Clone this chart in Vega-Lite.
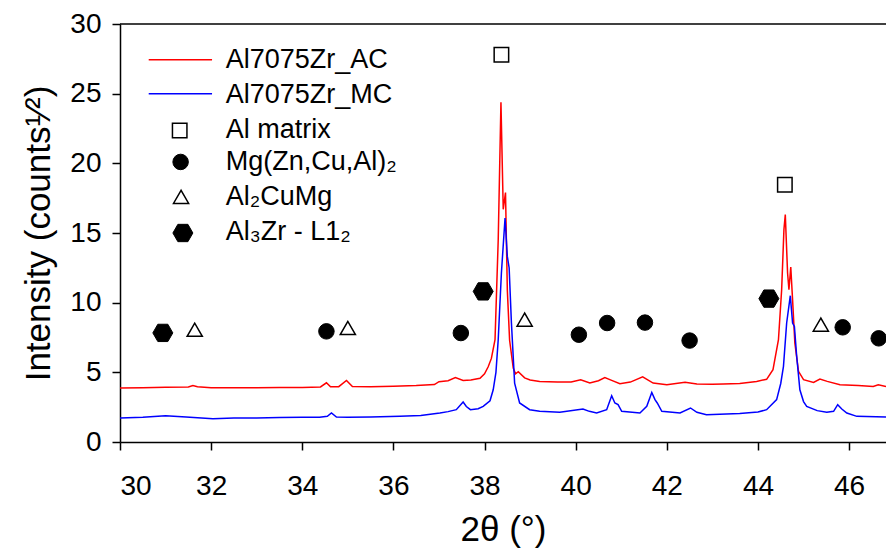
{
  "$schema": "https://vega.github.io/schema/vega-lite/v6.json",
  "width": 766,
  "height": 418,
  "autosize": {"type": "none"},
  "padding": {"left": 120, "top": 24, "right": 0, "bottom": 112},
  "background": "white",
  "config": {
    "view": {"stroke": null},
    "font": "Liberation Sans",
    "axis": {
      "grid": false,
      "domainColor": "black",
      "domainWidth": 1.5,
      "tickColor": "black",
      "tickWidth": 1.5,
      "tickSize": 8,
      "labelFont": "Liberation Sans",
      "labelFontSize": 28,
      "labelColor": "black",
      "titleFont": "Liberation Sans",
      "titleFontSize": 35,
      "titleFontWeight": "normal",
      "titleColor": "black"
    }
  },
  "datasets": {
    "spectra": [
      {"series": "Al7075Zr_AC", "x": 30.0, "y": 3.88},
      {"series": "Al7075Zr_AC", "x": 30.5, "y": 3.9},
      {"series": "Al7075Zr_AC", "x": 31.0, "y": 3.93},
      {"series": "Al7075Zr_AC", "x": 31.5, "y": 3.95},
      {"series": "Al7075Zr_AC", "x": 31.6, "y": 4.05},
      {"series": "Al7075Zr_AC", "x": 31.7, "y": 3.97},
      {"series": "Al7075Zr_AC", "x": 32.0, "y": 3.9},
      {"series": "Al7075Zr_AC", "x": 32.5, "y": 3.9},
      {"series": "Al7075Zr_AC", "x": 33.0, "y": 3.9},
      {"series": "Al7075Zr_AC", "x": 33.5, "y": 3.92},
      {"series": "Al7075Zr_AC", "x": 34.0, "y": 3.92},
      {"series": "Al7075Zr_AC", "x": 34.4, "y": 3.95},
      {"series": "Al7075Zr_AC", "x": 34.53, "y": 4.25},
      {"series": "Al7075Zr_AC", "x": 34.62, "y": 3.96},
      {"series": "Al7075Zr_AC", "x": 34.8, "y": 3.97},
      {"series": "Al7075Zr_AC", "x": 34.97, "y": 4.42},
      {"series": "Al7075Zr_AC", "x": 35.1, "y": 3.98},
      {"series": "Al7075Zr_AC", "x": 35.5, "y": 3.97},
      {"series": "Al7075Zr_AC", "x": 36.0, "y": 4.0},
      {"series": "Al7075Zr_AC", "x": 36.5, "y": 4.05},
      {"series": "Al7075Zr_AC", "x": 36.9, "y": 4.12},
      {"series": "Al7075Zr_AC", "x": 37.0, "y": 4.33},
      {"series": "Al7075Zr_AC", "x": 37.2, "y": 4.4},
      {"series": "Al7075Zr_AC", "x": 37.36, "y": 4.62},
      {"series": "Al7075Zr_AC", "x": 37.53, "y": 4.42},
      {"series": "Al7075Zr_AC", "x": 37.7, "y": 4.45},
      {"series": "Al7075Zr_AC", "x": 37.9, "y": 4.58},
      {"series": "Al7075Zr_AC", "x": 38.0, "y": 4.9},
      {"series": "Al7075Zr_AC", "x": 38.08, "y": 5.4},
      {"series": "Al7075Zr_AC", "x": 38.15, "y": 6.0},
      {"series": "Al7075Zr_AC", "x": 38.23, "y": 7.34},
      {"series": "Al7075Zr_AC", "x": 38.3, "y": 14.5},
      {"series": "Al7075Zr_AC", "x": 38.36, "y": 24.38},
      {"series": "Al7075Zr_AC", "x": 38.41, "y": 16.7},
      {"series": "Al7075Zr_AC", "x": 38.46, "y": 17.9},
      {"series": "Al7075Zr_AC", "x": 38.5, "y": 10.9},
      {"series": "Al7075Zr_AC", "x": 38.55, "y": 7.3},
      {"series": "Al7075Zr_AC", "x": 38.63, "y": 5.3},
      {"series": "Al7075Zr_AC", "x": 38.68, "y": 4.9},
      {"series": "Al7075Zr_AC", "x": 38.74, "y": 5.05},
      {"series": "Al7075Zr_AC", "x": 38.88, "y": 4.6},
      {"series": "Al7075Zr_AC", "x": 39.0, "y": 4.45},
      {"series": "Al7075Zr_AC", "x": 39.21, "y": 4.35},
      {"series": "Al7075Zr_AC", "x": 39.6, "y": 4.3},
      {"series": "Al7075Zr_AC", "x": 39.9, "y": 4.3},
      {"series": "Al7075Zr_AC", "x": 40.11, "y": 4.47},
      {"series": "Al7075Zr_AC", "x": 40.31, "y": 4.23},
      {"series": "Al7075Zr_AC", "x": 40.5, "y": 4.4},
      {"series": "Al7075Zr_AC", "x": 40.64, "y": 4.62},
      {"series": "Al7075Zr_AC", "x": 40.79, "y": 4.42},
      {"series": "Al7075Zr_AC", "x": 40.97, "y": 4.18},
      {"series": "Al7075Zr_AC", "x": 41.2, "y": 4.3},
      {"series": "Al7075Zr_AC", "x": 41.47, "y": 4.67},
      {"series": "Al7075Zr_AC", "x": 41.7, "y": 4.23},
      {"series": "Al7075Zr_AC", "x": 42.0, "y": 4.11},
      {"series": "Al7075Zr_AC", "x": 42.4, "y": 4.28},
      {"series": "Al7075Zr_AC", "x": 42.66, "y": 4.16},
      {"series": "Al7075Zr_AC", "x": 43.0, "y": 4.15},
      {"series": "Al7075Zr_AC", "x": 43.24, "y": 4.16},
      {"series": "Al7075Zr_AC", "x": 43.6, "y": 4.2},
      {"series": "Al7075Zr_AC", "x": 43.97, "y": 4.35},
      {"series": "Al7075Zr_AC", "x": 44.19, "y": 4.5},
      {"series": "Al7075Zr_AC", "x": 44.33, "y": 5.19},
      {"series": "Al7075Zr_AC", "x": 44.45, "y": 7.34},
      {"series": "Al7075Zr_AC", "x": 44.52, "y": 10.93},
      {"series": "Al7075Zr_AC", "x": 44.57, "y": 15.24},
      {"series": "Al7075Zr_AC", "x": 44.6, "y": 16.32},
      {"series": "Al7075Zr_AC", "x": 44.65, "y": 12.13},
      {"series": "Al7075Zr_AC", "x": 44.68, "y": 10.93},
      {"series": "Al7075Zr_AC", "x": 44.72, "y": 12.56},
      {"series": "Al7075Zr_AC", "x": 44.76, "y": 10.2},
      {"series": "Al7075Zr_AC", "x": 44.81, "y": 7.1},
      {"series": "Al7075Zr_AC", "x": 44.89, "y": 5.07},
      {"series": "Al7075Zr_AC", "x": 45.0, "y": 4.47},
      {"series": "Al7075Zr_AC", "x": 45.22, "y": 4.28},
      {"series": "Al7075Zr_AC", "x": 45.36, "y": 4.52},
      {"series": "Al7075Zr_AC", "x": 45.52, "y": 4.35},
      {"series": "Al7075Zr_AC", "x": 45.8, "y": 4.11},
      {"series": "Al7075Zr_AC", "x": 46.2, "y": 4.05},
      {"series": "Al7075Zr_AC", "x": 46.53, "y": 3.99},
      {"series": "Al7075Zr_AC", "x": 46.64, "y": 4.11},
      {"series": "Al7075Zr_AC", "x": 46.81, "y": 3.99},
      {"series": "Al7075Zr_MC", "x": 30.0, "y": 1.72},
      {"series": "Al7075Zr_MC", "x": 30.5, "y": 1.78},
      {"series": "Al7075Zr_MC", "x": 31.0, "y": 1.89},
      {"series": "Al7075Zr_MC", "x": 31.45, "y": 1.79},
      {"series": "Al7075Zr_MC", "x": 32.04, "y": 1.67},
      {"series": "Al7075Zr_MC", "x": 32.5, "y": 1.72},
      {"series": "Al7075Zr_MC", "x": 33.0, "y": 1.72},
      {"series": "Al7075Zr_MC", "x": 33.5, "y": 1.75},
      {"series": "Al7075Zr_MC", "x": 34.0, "y": 1.77},
      {"series": "Al7075Zr_MC", "x": 34.38, "y": 1.77},
      {"series": "Al7075Zr_MC", "x": 34.55, "y": 1.85},
      {"series": "Al7075Zr_MC", "x": 34.64, "y": 2.08},
      {"series": "Al7075Zr_MC", "x": 34.75, "y": 1.79},
      {"series": "Al7075Zr_MC", "x": 35.0, "y": 1.78},
      {"series": "Al7075Zr_MC", "x": 35.5, "y": 1.8},
      {"series": "Al7075Zr_MC", "x": 36.14, "y": 1.84},
      {"series": "Al7075Zr_MC", "x": 36.6, "y": 1.9},
      {"series": "Al7075Zr_MC", "x": 37.02, "y": 2.08},
      {"series": "Al7075Zr_MC", "x": 37.2, "y": 2.18},
      {"series": "Al7075Zr_MC", "x": 37.38, "y": 2.32},
      {"series": "Al7075Zr_MC", "x": 37.53, "y": 2.87},
      {"series": "Al7075Zr_MC", "x": 37.6, "y": 2.55},
      {"series": "Al7075Zr_MC", "x": 37.69, "y": 2.32},
      {"series": "Al7075Zr_MC", "x": 37.86, "y": 2.39},
      {"series": "Al7075Zr_MC", "x": 37.97, "y": 2.56},
      {"series": "Al7075Zr_MC", "x": 38.12, "y": 2.96},
      {"series": "Al7075Zr_MC", "x": 38.19, "y": 3.75},
      {"series": "Al7075Zr_MC", "x": 38.25, "y": 5.0},
      {"series": "Al7075Zr_MC", "x": 38.3, "y": 7.34},
      {"series": "Al7075Zr_MC", "x": 38.37, "y": 12.13},
      {"series": "Al7075Zr_MC", "x": 38.45, "y": 16.08},
      {"series": "Al7075Zr_MC", "x": 38.5, "y": 13.32},
      {"series": "Al7075Zr_MC", "x": 38.54, "y": 12.49},
      {"series": "Al7075Zr_MC", "x": 38.59, "y": 8.54},
      {"series": "Al7075Zr_MC", "x": 38.66, "y": 4.23},
      {"series": "Al7075Zr_MC", "x": 38.77, "y": 2.8},
      {"series": "Al7075Zr_MC", "x": 38.99, "y": 2.32},
      {"series": "Al7075Zr_MC", "x": 39.21, "y": 2.2},
      {"series": "Al7075Zr_MC", "x": 39.65, "y": 2.13},
      {"series": "Al7075Zr_MC", "x": 40.16, "y": 2.37},
      {"series": "Al7075Zr_MC", "x": 40.3, "y": 2.2},
      {"series": "Al7075Zr_MC", "x": 40.46, "y": 2.08},
      {"series": "Al7075Zr_MC", "x": 40.68, "y": 2.32},
      {"series": "Al7075Zr_MC", "x": 40.79, "y": 3.32},
      {"series": "Al7075Zr_MC", "x": 40.86, "y": 2.8},
      {"series": "Al7075Zr_MC", "x": 40.93, "y": 2.68},
      {"series": "Al7075Zr_MC", "x": 41.01, "y": 2.2},
      {"series": "Al7075Zr_MC", "x": 41.41, "y": 2.08},
      {"series": "Al7075Zr_MC", "x": 41.56, "y": 2.56},
      {"series": "Al7075Zr_MC", "x": 41.67, "y": 3.56},
      {"series": "Al7075Zr_MC", "x": 41.74, "y": 3.04},
      {"series": "Al7075Zr_MC", "x": 41.79, "y": 2.8},
      {"series": "Al7075Zr_MC", "x": 41.89, "y": 2.2},
      {"series": "Al7075Zr_MC", "x": 42.29, "y": 2.08},
      {"series": "Al7075Zr_MC", "x": 42.52, "y": 2.44},
      {"series": "Al7075Zr_MC", "x": 42.66, "y": 2.13},
      {"series": "Al7075Zr_MC", "x": 42.87, "y": 1.96},
      {"series": "Al7075Zr_MC", "x": 43.6, "y": 2.05},
      {"series": "Al7075Zr_MC", "x": 44.0, "y": 2.15},
      {"series": "Al7075Zr_MC", "x": 44.19, "y": 2.32},
      {"series": "Al7075Zr_MC", "x": 44.41, "y": 3.04},
      {"series": "Al7075Zr_MC", "x": 44.5, "y": 4.2},
      {"series": "Al7075Zr_MC", "x": 44.56, "y": 5.43},
      {"series": "Al7075Zr_MC", "x": 44.63, "y": 8.54},
      {"series": "Al7075Zr_MC", "x": 44.71, "y": 10.5},
      {"series": "Al7075Zr_MC", "x": 44.76, "y": 8.54},
      {"series": "Al7075Zr_MC", "x": 44.8, "y": 8.3},
      {"series": "Al7075Zr_MC", "x": 44.85, "y": 6.15},
      {"series": "Al7075Zr_MC", "x": 44.92, "y": 3.75},
      {"series": "Al7075Zr_MC", "x": 45.0, "y": 2.9},
      {"series": "Al7075Zr_MC", "x": 45.07, "y": 2.56},
      {"series": "Al7075Zr_MC", "x": 45.3, "y": 2.25},
      {"series": "Al7075Zr_MC", "x": 45.51, "y": 2.13},
      {"series": "Al7075Zr_MC", "x": 45.66, "y": 2.2},
      {"series": "Al7075Zr_MC", "x": 45.75, "y": 2.68},
      {"series": "Al7075Zr_MC", "x": 45.84, "y": 2.37},
      {"series": "Al7075Zr_MC", "x": 45.95, "y": 2.08},
      {"series": "Al7075Zr_MC", "x": 46.17, "y": 1.84},
      {"series": "Al7075Zr_MC", "x": 46.81, "y": 1.79}
    ],
    "markers": [
      {"phase": "Al3Zr", "x": 30.94, "y": 7.83},
      {"phase": "Al2CuMg", "x": 31.64, "y": 8.06},
      {"phase": "MgZn2", "x": 34.53, "y": 7.94},
      {"phase": "Al2CuMg", "x": 35.0, "y": 8.18},
      {"phase": "MgZn2", "x": 37.48, "y": 7.82},
      {"phase": "Al3Zr", "x": 37.97, "y": 10.81},
      {"phase": "Al", "x": 38.37, "y": 27.8},
      {"phase": "Al2CuMg", "x": 38.88, "y": 8.78},
      {"phase": "MgZn2", "x": 40.07, "y": 7.7},
      {"phase": "MgZn2", "x": 40.69, "y": 8.54},
      {"phase": "MgZn2", "x": 41.52, "y": 8.57},
      {"phase": "MgZn2", "x": 42.5, "y": 7.28},
      {"phase": "Al3Zr", "x": 44.24, "y": 10.29},
      {"phase": "Al", "x": 44.59, "y": 18.47},
      {"phase": "Al2CuMg", "x": 45.38, "y": 8.42},
      {"phase": "MgZn2", "x": 45.86, "y": 8.23},
      {"phase": "MgZn2", "x": 46.65, "y": 7.44},
      {"phase": "Al", "x": 31.31, "y": 22.35},
      {"phase": "MgZn2", "x": 31.33, "y": 20.1},
      {"phase": "Al2CuMg", "x": 31.34, "y": 17.59},
      {"phase": "Al3Zr", "x": 31.38, "y": 15.0}
    ],
    "legendLines": [
      {"series": "Al7075Zr_AC", "x": 30.63, "x2": 32.02, "y": 27.44},
      {"series": "Al7075Zr_MC", "x": 30.63, "x2": 32.02, "y": 25.0}
    ],
    "legendTexts": [
      {"label": "Al7075Zr_AC", "x": 32.32, "y": 26.85},
      {"label": "Al7075Zr_MC", "x": 32.32, "y": 24.34},
      {"label": "Al matrix", "x": 32.32, "y": 21.82},
      {"label": "Mg(Zn,Cu,Al)₂", "x": 32.32, "y": 19.55},
      {"label": "Al₂CuMg", "x": 32.32, "y": 17.03},
      {"label": "Al₃Zr - L1₂", "x": 32.32, "y": 14.5}
    ],
    "frame": [{"y": 30}]
  },
  "layer": [
    {
      "data": {"name": "spectra"},
      "mark": {"type": "line", "strokeWidth": 1.5, "clip": true},
      "encoding": {
        "x": {
          "field": "x", "type": "quantitative",
          "scale": {"domain": [30, 46.81], "nice": false, "zero": false},
          "axis": {"values": [30, 32, 34, 36, 38, 40, 42, 44, 46], "labelPadding": 22, "titlePadding": 12, "title": "2θ (°)"}
        },
        "y": {
          "field": "y", "type": "quantitative",
          "scale": {"domain": [0, 30], "nice": false},
          "axis": {"values": [0, 5, 10, 15, 20, 25, 30], "labelPadding": 11, "titlePadding": 13, "title": "Intensity (counts¹⁄²)"}
        },
        "color": {
          "field": "series", "type": "nominal",
          "scale": {"domain": ["Al7075Zr_AC", "Al7075Zr_MC"], "range": ["#ff0000", "#0000ff"]},
          "legend": null
        },
        "order": {"field": "x", "type": "quantitative"}
      }
    },
    {
      "data": {"name": "frame"},
      "mark": {"type": "rule", "color": "black", "strokeWidth": 1.5},
      "encoding": {
        "y": {"field": "y", "type": "quantitative"}
      }
    },
    {
      "data": {"name": "legendLines"},
      "mark": {"type": "rule", "strokeWidth": 1.5},
      "encoding": {
        "x": {"field": "x", "type": "quantitative"},
        "x2": {"field": "x2"},
        "y": {"field": "y", "type": "quantitative"},
        "color": {"field": "series", "type": "nominal", "legend": null}
      }
    },
    {
      "data": {"name": "markers"},
      "transform": [{"filter": "datum.phase === 'Al'"}],
      "mark": {"type": "point", "shape": "square", "size": 210, "fill": "white", "stroke": "black", "strokeWidth": 1.5, "opacity": 1},
      "encoding": {
        "x": {"field": "x", "type": "quantitative"},
        "y": {"field": "y", "type": "quantitative"}
      }
    },
    {
      "data": {"name": "markers"},
      "transform": [{"filter": "datum.phase === 'MgZn2'"}],
      "mark": {"type": "point", "shape": "circle", "size": 240, "fill": "black", "stroke": "black", "strokeWidth": 1, "opacity": 1},
      "encoding": {
        "x": {"field": "x", "type": "quantitative"},
        "y": {"field": "y", "type": "quantitative"}
      }
    },
    {
      "data": {"name": "markers"},
      "transform": [{"filter": "datum.phase === 'Al2CuMg'"}],
      "mark": {"type": "point", "shape": "triangle-up", "size": 230, "fill": "white", "stroke": "black", "strokeWidth": 1.5, "opacity": 1},
      "encoding": {
        "x": {"field": "x", "type": "quantitative"},
        "y": {"field": "y", "type": "quantitative"}
      }
    },
    {
      "data": {"name": "markers"},
      "transform": [{"filter": "datum.phase === 'Al3Zr'"}],
      "mark": {"type": "point", "shape": "M-1,0L-0.5,-0.866L0.5,-0.866L1,0L0.5,0.866L-0.5,0.866Z", "size": 400, "fill": "black", "stroke": "black", "strokeWidth": 1, "opacity": 1},
      "encoding": {
        "x": {"field": "x", "type": "quantitative"},
        "y": {"field": "y", "type": "quantitative"}
      }
    },
    {
      "data": {"name": "legendTexts"},
      "mark": {"type": "text", "align": "left", "baseline": "alphabetic", "fontSize": 27, "font": "Liberation Sans", "color": "black"},
      "encoding": {
        "x": {"field": "x", "type": "quantitative"},
        "y": {"field": "y", "type": "quantitative"},
        "text": {"field": "label", "type": "nominal"}
      }
    }
  ]
}
